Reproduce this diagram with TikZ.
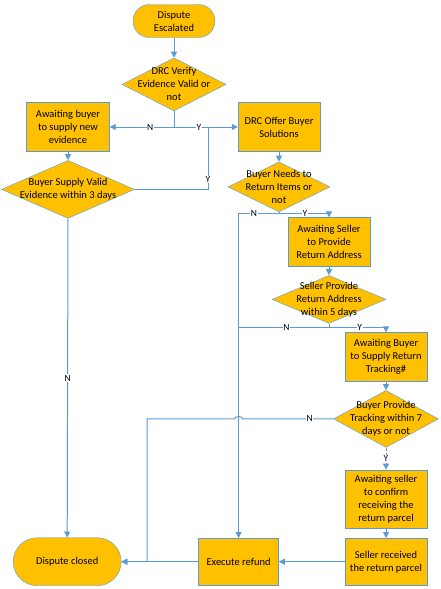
\documentclass[tikz,border=0pt]{standalone}
\usepackage{fontspec}
\setmainfont{Carlito}
\usetikzlibrary{shapes.geometric, arrows.meta, positioning, calc}
\definecolor{boxfill}{HTML}{FFC000}
\definecolor{flowblue}{HTML}{5B9BD5}

\begin{document}
\begin{tikzpicture}[
    x=1pt, y=-1pt,
    every node/.style={font=\fontsize{10.5}{13}\selectfont},
    procbox/.style={rectangle, draw=flowblue, fill=boxfill, align=center,
                    minimum width=82pt, minimum height=49pt, inner sep=0pt},
    termbox/.style={procbox, rounded corners=#1},
    decide/.style={diamond, draw=flowblue, fill=boxfill, align=center,
                   inner sep=-40pt},
    arr/.style={-{Triangle[length=6pt, width=6pt]}, flowblue, line width=1pt},
    wire/.style={flowblue, line width=1pt},
    yn/.style={fill=white, text=black, inner sep=0.6pt, font=\fontsize{9.5}{10}\selectfont}
]
    \useasboundingbox (0,0) rectangle (441,589);

    % main column
    \node[termbox=16.5pt, minimum height=33pt] (start) at (174,21) {Dispute\\Escalated};
    \node[decide, minimum width=104pt, minimum height=53pt, below=20pt of start] (d1)
        {DRC Verify\\Evidence Valid or\\not};
    \node[procbox, minimum width=83pt] (wait) at (68,127) {Awaiting buyer\\to supply new\\evidence};
    \node[decide, minimum width=133pt, minimum height=58pt, below=8.5pt of wait] (d2)
        {Buyer Supply Valid\\Evidence within 3 days};
    \node[procbox] (offer) at (279,127) {DRC Offer Buyer\\Solutions};
    \node[decide, minimum width=102pt, minimum height=50pt, below=10pt of offer] (d3)
        {Buyer Needs to\\Return Items or\\not};

    % return branch
    \node[procbox] (seller) at (329,242) {Awaiting Seller\\to Provide\\Return Address};
    \node[decide, minimum width=114pt, minimum height=48pt, below=8.5pt of seller] (d4)
        {Seller Provide\\Return Address\\within 5 days};
    \node[procbox] (track) at (386,357) {Awaiting Buyer\\to Supply Return\\Tracking\#};
    \node[decide, minimum width=105pt, minimum height=57pt, below=8.5pt of track] (d5)
        {Buyer Provide\\Tracking within 7\\days or not};
    \node[procbox, minimum height=58pt, below=22pt of d5] (confirm)
        {Awaiting seller\\to confirm\\receiving the\\return parcel};
    \node[procbox, minimum height=47pt, below=10pt of confirm] (received)
        {Seller received\\the return parcel};
    \node[procbox, minimum width=80pt, minimum height=47pt, left=66pt of received] (refund)
        {Execute refund};
    \node[termbox=24pt, minimum width=108pt, minimum height=48pt, left=77pt of refund] (closed)
        {Dispute closed};

    \coordinate (j1) at (d1.south |- wait.east);
    \coordinate (j2) at (208,127);
    \coordinate[below=1.5pt of d3.south] (j3);
    \coordinate[below=4pt of d4.south] (j4);
    \coordinate (nbend) at (147,561);

    \draw[arr] (start) -- (d1);
    \draw[wire] (d1.south) -- (j1);
    \draw[arr] (j1) -- (wait.east) node[yn, pos=0.37] {N};
    \draw[arr] (j1) -- (offer.west) node[yn, pos=0.39] {Y};
    \draw[arr] (wait) -- (d2);
    \draw[wire] (d2.east) -| (j2) node[yn, pos=0.58] {Y};
    \draw[arr] (d2.south) -- (closed.north) node[yn, midway] {N};
    \draw[arr] (offer) -- (d3);
    \draw[wire] (d3.south) -- (j3);
    \draw[arr] (j3) -| (refund.north) node[yn, pos=0.31] {N};
    \draw[arr] (j3) -| (seller.north) node[yn, pos=0.26] {Y};
    \draw[arr] (seller) -- (d4);
    \draw[wire] (d4.south) -- (j4);
    \draw[wire] (j4) -- (refund.north |- j4) node[yn, pos=0.47] {N};
    \draw[arr] (j4) -| (track.north) node[yn, pos=0.27] {Y};
    \draw[arr] (track) -- (d5);
    \draw[arr] (d5.west) -- ($(refund.north |- d5.west)+(4,0)$) node[yn, pos=0.26] {N}
        to[out=90, in=90] ($(refund.north |- d5.west)+(-4,0)$)
        -- (nbend |- d5.west) |- (closed.east);
    \draw[arr, densely dashed] (d5) -- (confirm) node[yn, midway] {Y};
    \draw[arr] (confirm) -- (received);
    \draw[arr] (received) -- (refund);
    \draw[arr] (refund) -- (closed);
\end{tikzpicture}
\end{document}
